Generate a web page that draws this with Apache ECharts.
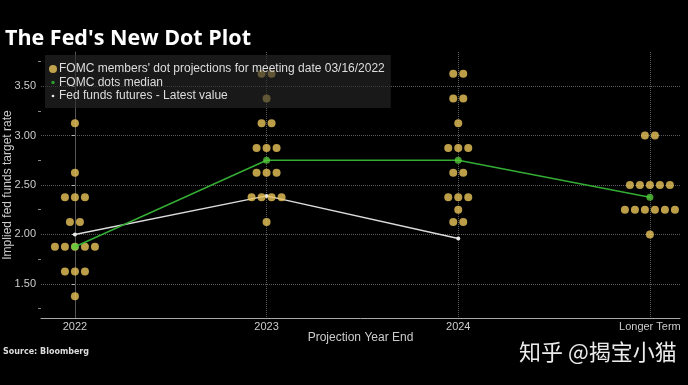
<!DOCTYPE html>
<html>
<head>
<meta charset="utf-8">
<script src="https://cdn.jsdelivr.net/npm/echarts@6/dist/echarts.min.js"></script>
<style>html,body{margin:0;padding:0;background:#000;}#c{width:688px;height:385px;}</style>
</head>
<body>
<div id="c"></div>
<script>
const categories = ['2022', '2023', '2024', 'Longer Term'];
// individual FOMC participant dots, per projection year
const dots2022 = [3.125, 2.625, 2.375, 2.375, 2.375, 2.125, 2.125, 1.875, 1.875, 1.875, 1.875, 1.875, 1.625, 1.625, 1.625, 1.375];
const dots2023 = [3.625, 3.625, 3.375, 3.125, 3.125, 2.875, 2.875, 2.875, 2.625, 2.625, 2.625, 2.375, 2.375, 2.375, 2.375, 2.125];
const dots2024 = [3.625, 3.625, 3.375, 3.375, 3.125, 2.875, 2.875, 2.875, 2.625, 2.625, 2.375, 2.375, 2.375, 2.25, 2.125, 2.125];
const dotsLonger = [3.0, 3.0, 2.5, 2.5, 2.5, 2.5, 2.5, 2.25, 2.25, 2.25, 2.25, 2.25, 2.25, 2.0];
const medianValues = [1.875, 2.75, 2.75, 2.375];
const futuresValues = [2.00, 2.39, 1.96];
const yTickLabels = [1.5, 2.0, 2.5, 3.0, 3.5];
const yMinorTicks = [1.25, 1.75, 2.25, 2.75, 3.25, 3.75];

const dotName = "FOMC members' dot projections for meeting date 03/16/2022";
const medName = 'FOMC dots median';
const futName = 'Fed funds futures - Latest value';
const FONT = 'Liberation Sans';

function buildDots(values, xi) {
  const counts = {};
  values.forEach(v => { counts[v] = (counts[v] || 0) + 1; });
  const seen = {};
  return values.map(v => {
    const n = counts[v];
    const i = seen[v] || 0;
    seen[v] = i + 1;
    return { value: [xi, v], symbolOffset: [(i - (n - 1) / 2) * 10, 0] };
  });
}
const dotData = [].concat(
  buildDots(dots2022, 0), buildDots(dots2023, 1), buildDots(dots2024, 2), buildDots(dotsLonger, 3)
);

const chart = echarts.init(document.getElementById('c'));
chart.setOption({
  backgroundColor: '#000',
  animation: false,
  textStyle: { fontFamily: FONT },
  title: {
    text: "The Fed's New Dot Plot",
    left: 0, top: 23,
    textStyle: { color: '#fff', fontSize: 21.5, fontWeight: 'bold', fontFamily: 'Open Sans' }
  },
  legend: {
    orient: 'vertical',
    left: 45, top: 55,
    padding: [8, 6, 6, 4],
    itemGap: 1.5,
    itemWidth: 8, itemHeight: 8,
    backgroundColor: 'rgba(40,40,40,0.62)',
    textStyle: { color: '#ddd', fontSize: 12, fontFamily: FONT, lineHeight: 12, padding: [0, 0, 0, -3] },
    data: [
      { name: dotName, icon: 'circle' },
      { name: medName, icon: 'path://M0,0 M10,10 M5,2.8 A2.2,2.2 0 1,1 5,7.2 A2.2,2.2 0 1,1 5,2.8 Z', itemStyle: { color: '#2f9e2f' } },
      { name: futName, icon: 'path://M0,0 M10,10 M5,3.3 A1.7,1.7 0 1,1 5,6.7 A1.7,1.7 0 1,1 5,3.3 Z' }
    ]
  },
  grid: { left: 41, right: 8, top: 52, bottom: 67, outerBoundsMode: 'none', containLabel: false },
  xAxis: {
    type: 'value', min: -0.177, max: 3.157,
    name: 'Projection Year End', nameLocation: 'middle', nameGap: 14, nameMoveOverlap: false,
    nameTextStyle: { color: '#ccc', fontSize: 12, fontFamily: FONT },
    axisLine: { show: true, lineStyle: { color: '#aaa', width: 1 } },
    axisTick: { show: false, customValues: [0, 1, 2, 3] },
    axisLabel: { customValues: [0, 1, 2, 3], formatter: v => categories[Math.round(v)], color: '#ccc', fontSize: 11, margin: 3 },
    splitLine: { show: true, lineStyle: { color: '#5a5a5a', type: 'dotted' } }
  },
  yAxis: [
    {
      type: 'value', min: 1.155, max: 3.845,
      name: 'Implied fed funds target rate', nameLocation: 'middle', nameGap: 27, nameMoveOverlap: false,
      nameTextStyle: { color: '#ccc', fontSize: 12, fontFamily: FONT },
      axisLine: { show: true, lineStyle: { color: '#555' } },
      axisTick: { show: true, customValues: yTickLabels, length: 3, lineStyle: { color: '#bbb' } },
      axisLabel: { customValues: yTickLabels, formatter: v => v.toFixed(2), color: '#ccc', fontSize: 11, margin: 5 },
      splitLine: { show: true, lineStyle: { color: '#5a5a5a', type: 'dotted' } }
    },
    {
      type: 'value', min: 1.155, max: 3.845, position: 'left', offset: 0,
      axisLine: { show: false },
      axisTick: { show: true, customValues: yMinorTicks, length: 3, lineStyle: { color: '#888' } },
      axisLabel: { show: false },
      splitLine: { show: false }
    }
  ],
  series: [
    {
      name: futName, type: 'line', z: 1,
      symbol: 'circle', symbolSize: 4,
      lineStyle: { color: '#dcdcdc', width: 1.5 },
      itemStyle: { color: '#e8e8e8', borderWidth: 0 },
      data: futuresValues.map((v, i) => [i, v])
    },
    {
      name: dotName, type: 'scatter', z: 2,
      symbol: 'circle', symbolSize: 8,
      itemStyle: { color: '#ebc55a' },
      data: dotData
    },
    {
      name: medName, type: 'line', z: 3,
      symbol: 'circle', symbolSize: 7, showSymbol: true,
      lineStyle: { color: '#33ad33', width: 1.5 },
      itemStyle: { color: 'rgba(90,210,60,0.75)', borderWidth: 0 },
      data: medianValues.map((v, i) => [i, v])
    }
  ],
  graphic: [
    { type: 'text', left: 3, top: 348, style: { text: 'Source: Bloomberg', fill: '#ddd', font: 'bold 8px "DejaVu Sans"' } },
    { type: 'text', left: 519, top: 341, style: { text: '知乎 @揭宝小猫', fill: 'rgba(255,255,255,0.92)', font: '22px "Noto Sans CJK SC"' } }
  ]
});
</script>
</body>
</html>
